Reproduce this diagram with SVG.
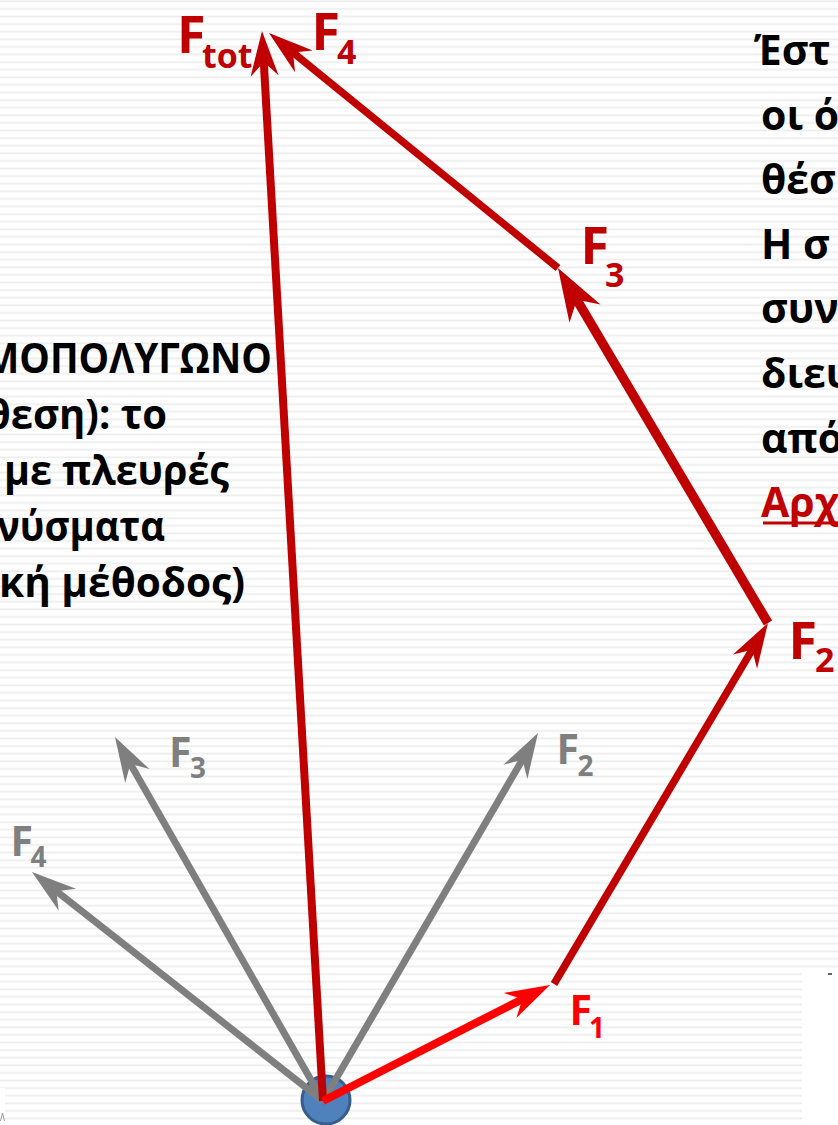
<svg xmlns="http://www.w3.org/2000/svg" width="838" height="1125" viewBox="0 0 838 1125">
<style>
.t{font-family:'Open Sans','Noto Sans','DejaVu Sans',sans-serif;font-weight:700}
.body{font-size:41px;fill:#000}
.lr{fill:#c00000;font-size:52px}
.lrs{font-size:34px}
.lg{fill:#7f7f7f;font-size:41px}
.lb{fill:#ff0000;font-size:41px}
.ls{font-size:28px}
.vr{stroke:#c00000;fill:none;stroke-linecap:butt}
.vg{stroke:#7f7f7f;fill:none;stroke-width:7;marker-end:url(#ahG)}
</style>
<defs>
<pattern id="stripes" patternUnits="userSpaceOnUse" width="838" height="7.6">
<rect x="0" y="0.4" width="838" height="1.8" fill="#ededed"/>
</pattern>
<marker id="ahR" markerUnits="userSpaceOnUse" orient="auto" markerWidth="80" markerHeight="60" viewBox="-30 -30 80 60" refX="0" refY="0" overflow="visible">
<path d="M28,0 L-17,-14 L-3,0 L-17,14 Z" fill="#c00000"/>
</marker>
<marker id="ahRL" markerUnits="userSpaceOnUse" orient="auto" markerWidth="80" markerHeight="60" viewBox="-30 -30 80 60" refX="0" refY="0" overflow="visible">
<path d="M33,0 L-20,-18 L-4,0 L-20,18 Z" fill="#c00000"/>
</marker>
<marker id="ahB" markerUnits="userSpaceOnUse" orient="auto" markerWidth="80" markerHeight="60" viewBox="-30 -30 80 60" refX="0" refY="0" overflow="visible">
<path d="M28,0 L-17,-14 L-3,0 L-17,14 Z" fill="#ff0000"/>
</marker>
<marker id="ahG" markerUnits="userSpaceOnUse" orient="auto" markerWidth="80" markerHeight="60" viewBox="-30 -30 80 60" refX="0" refY="0" overflow="visible">
<path d="M28,0 L-17,-14 L-3,0 L-17,14 Z" fill="#7f7f7f"/>
</marker>
</defs>

<g id="background">
<rect x="0" y="0" width="838" height="1125" fill="#ffffff"/>
<rect x="0" y="0" width="838" height="1125" fill="url(#stripes)"/>
<rect x="802" y="971" width="36" height="154" fill="#ffffff"/>
<rect x="828" y="973" width="4" height="2" fill="#666666"/>
<rect x="0" y="1088" width="5" height="37" fill="#ffffff"/>
<path d="M0.5,1121 L2.5,1113 L4.5,1121" fill="none" stroke="#9a9a9a" stroke-width="1"/>
</g>

<g id="text-left" class="t body">
<text x="-17" y="373" textLength="289" lengthAdjust="spacingAndGlyphs">ΜΟΠΟΛΥΓΩΝΟ</text>
<text x="-14" y="429" textLength="181" lengthAdjust="spacingAndGlyphs">θεση): το</text>
<text x="4" y="485" textLength="225" lengthAdjust="spacingAndGlyphs">με πλευρές</text>
<text x="-3" y="541" textLength="168" lengthAdjust="spacingAndGlyphs">νύσματα</text>
<text x="-1" y="597" textLength="246" lengthAdjust="spacingAndGlyphs">κή μέθοδος)</text>
</g>

<g id="text-right" class="t body">
<text x="754" y="65">Έστ</text>
<text x="761" y="129.6">οι ό</text>
<text x="761" y="194.2">θέσ</text>
<text x="761" y="258.8">Η σ</text>
<text x="761" y="323.4">συν</text>
<text x="761" y="388">διευ</text>
<text x="761" y="452.6">από</text>
<text x="761" y="517.2" fill="#c00000">Αρχ</text>
<rect x="763" y="521.5" width="75" height="3" fill="#c00000"/>
</g>

<g id="origin">
<circle cx="326" cy="1100" r="24" fill="#4f81bd" stroke="#385d8a" stroke-width="3"/>
</g>

<g id="connectors">
<line id="g-F2" class="vg" x1="323" y1="1101" x2="523.9" y2="757.2"/>
<line id="g-F3" class="vg" x1="323" y1="1101" x2="128.9" y2="761.3"/>
<line id="g-F4" class="vg" x1="323" y1="1101" x2="54" y2="889.3"/>
<line id="r-F4" class="vr" stroke-width="7.5" x1="558" y1="268" x2="290.7" y2="50.7" marker-end="url(#ahR)"/>
<line id="r-F3" class="vr" stroke-width="9.5" x1="768" y1="623" x2="574.8" y2="296.4" marker-end="url(#ahRL)"/>
<line id="r-F2" class="vr" stroke-width="7.5" x1="554" y1="984" x2="753.7" y2="647.1" marker-end="url(#ahR)"/>
<line id="r-Ftot" class="vr" stroke-width="8" x1="323" y1="1101" x2="263.6" y2="59" marker-end="url(#ahR)"/>
<line id="r-F1" stroke="#ff0000" stroke-width="8" x1="323" y1="1101" x2="525.1" y2="997.7" marker-end="url(#ahB)"/>
</g>

<g id="labels" class="t">
<text id="lbl-Ftot" class="lr" x="177" y="53">F<tspan class="lrs" x="202" y="68">tot</tspan></text>
<text id="lbl-F4r" class="lr" x="311.5" y="49.5">F<tspan class="lrs" x="337" y="64">4</tspan></text>
<text id="lbl-F3r" class="lr" x="580.5" y="264">F<tspan class="lrs" x="605" y="287">3</tspan></text>
<text id="lbl-F2r" class="lr" x="788.5" y="658.5">F<tspan class="lrs" x="815" y="672">2</tspan></text>
<text id="lbl-F1" class="lb" x="569.5" y="1025">F<tspan class="ls" x="589" y="1038">1</tspan></text>
<text id="lbl-F3g" class="lg" x="169" y="767">F<tspan class="ls" x="190" y="778">3</tspan></text>
<text id="lbl-F4g" class="lg" x="10.5" y="856">F<tspan class="ls" x="30.5" y="867">4</tspan></text>
<text id="lbl-F2g" class="lg" x="556.5" y="763.5">F<tspan class="ls" x="577.5" y="776">2</tspan></text>
</g>
</svg>
